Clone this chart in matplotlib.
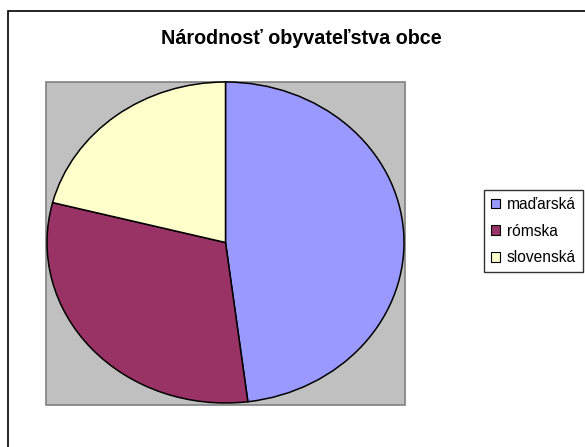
import matplotlib.pyplot as plt
from matplotlib.patches import Rectangle, Patch

# ── Data ────────────────────────────────────────────
labels = ["maďarská", "rómska", "slovenská"]
shares = [48.0, 31.0, 21.0]
colors = ["#9999FF", "#993366", "#FFFFCC"]
title = "Národnosť obyvateľstva obce"

W, H = 585, 447
fig = plt.figure(figsize=(W / 100, H / 100), dpi=100)
plt.rcParams["font.family"] = ["Liberation Sans", "DejaVu Sans"]


def px_box(x0, y0, x1, y1):
    # pixel box (top-left origin) -> figure fraction [l, b, w, h]
    return [x0 / W, 1 - y1 / H, (x1 - x0) / W, (y1 - y0) / H]


# outer chart frame (cut off at right and bottom in the reference)
fig.patches.append(Rectangle((7.5 / W, -0.2), 1.2, 1.2 - 10.5 / H,
                             transform=fig.transFigure, fill=False,
                             edgecolor="black", linewidth=1.2, zorder=0))

# gray plot area
fig.patches.append(Rectangle((46 / W, 1 - 405 / H), (405 - 46) / W, (405 - 82) / H,
                             transform=fig.transFigure, facecolor="#C0C0C0",
                             edgecolor="#808080", linewidth=1.2, zorder=1))

ax = fig.add_axes(px_box(47, 82, 404, 403))
ax.set_zorder(2)
wedges, _ = ax.pie(shares, colors=colors, startangle=90, counterclock=False,
                   radius=1.0, wedgeprops=dict(edgecolor="black", linewidth=1.1))
ax.set_xlim(-1.0, 1.0)
ax.set_ylim(-1.0, 1.0)
ax.set_aspect("auto")
ax.axis("off")

fig.text(301 / W, 1 - 38 / H, title, ha="center", va="center",
         fontsize=14.2, fontweight="bold")

handles = [Patch(facecolor=c, edgecolor="black", linewidth=0.8) for c in colors]
leg = fig.legend(handles, labels, loc="upper left",
                 bbox_to_anchor=(484 / W, 1 - 190 / H),
                 bbox_transform=fig.transFigure,
                 fontsize=11.2, frameon=True, fancybox=False,
                 edgecolor="black", handlelength=0.55, handleheight=0.55,
                 handletextpad=0.45, labelspacing=0.75, borderpad=0.45,
                 borderaxespad=0)
leg.get_frame().set_linewidth(1.0)

fig.savefig("out.png", dpi=100)
